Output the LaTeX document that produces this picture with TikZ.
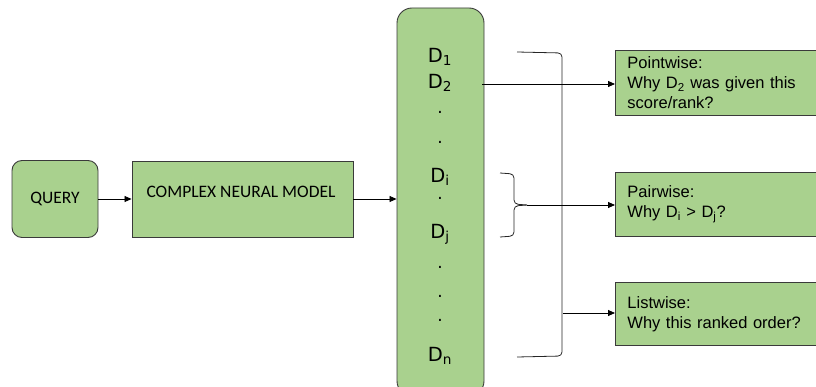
\documentclass[tikz,border=0pt]{standalone}
\usepackage{fontspec}
\setmainfont{Liberation Sans}
\newfontfamily\calfont{Carlito}
\newfontfamily\dvfont{DejaVu Sans}
\usetikzlibrary{arrows.meta}
\definecolor{boxgreen}{HTML}{A9D18E}
\definecolor{boxline}{HTML}{3A3A3A}
\begin{document}
\begin{tikzpicture}[x=1pt,y=-1pt,
  gbox/.style={draw=boxline, fill=boxgreen, line width=0.9pt},
  rbox/.style={gbox, anchor=north west, minimum width=200pt, inner xsep=12pt, inner ysep=0pt, text width=180pt, align=left, font=\fontsize{16.5}{20}\selectfont},
  dlab/.style={font=\dvfont\fontsize{19.5}{19.5}\selectfont, inner sep=0pt},
  dotlab/.style={font=\dvfont\fontsize{17}{17}\selectfont, inner sep=0pt},
  arr/.style={-{Triangle[length=7pt,width=6pt]}, line width=0.8pt, black},
  brk/.style={line width=0.8pt, draw=black!85, rounded corners=4pt}]
\useasboundingbox (0,0) rectangle (816,387);
\clip (0,0) rectangle (816,387);
% left boxes
\node[gbox, rounded corners=10pt, minimum width=86pt, minimum height=77pt, inner sep=0pt, font=\calfont\fontsize{17.5}{17.5}\selectfont] (query) at (55,199) {QUERY};
\node[gbox, minimum width=221pt, minimum height=76pt, inner sep=0pt] (cnm) at (242.5,199) {};
\node[font=\calfont\fontsize{17.5}{17.5}\selectfont, inner sep=0pt] (cnmtext) at (241,192) {COMPLEX NEURAL MODEL};
% document list box
\node[gbox, rounded corners=15pt, minimum width=87pt, minimum height=388pt, inner sep=0pt] (dbox) at (440.5,202) {};
\node[dlab] (d1) at (440,57) {D\textsubscript{1}};
\node[dlab] (d2) at (440,83) {D\textsubscript{2}};
\node[dotlab] (p1) at (440,112) {.};
\node[dotlab] (p2) at (440,142) {.};
\node[dlab] (di) at (440,177) {D\textsubscript{i}};
\node[dotlab] (p3) at (440,198) {.};
\node[dlab] (dj) at (440,234) {D\textsubscript{j}};
\node[dotlab] (p4) at (440,267) {.};
\node[dotlab] (p5) at (440,296) {.};
\node[dotlab] (p6) at (440,320) {.};
\node[dlab] (dn) at (440,356) {D\textsubscript{n}};
% right boxes
\node[rbox, minimum height=65pt] (point) at (615,50) {Pointwise:\\Why D\textsubscript{2} was given this\\score/rank?};
\node[rbox, minimum height=64pt] (pair) at (615,172) {Pairwise:\\Why D\textsubscript{i} > D\textsubscript{j}?\\[3pt]};
\node[rbox, minimum height=63pt] (list) at (615,282) {Listwise:\\Why this ranked order?\\[3pt]};
% arrows left
\draw[arr] (query.east) -- (cnm.west);
\draw[arr] (cnm.east) -- (cnm.east -| dbox.west);
% big bracket
\coordinate (bt) at (517,52);
\coordinate (bb) at (517,357);
\coordinate (bm) at (563,313);
\draw[brk] (bt) -- (562,53) -- (562,356) -- (bb);
% small bracket
\coordinate (st) at (500,173);
\coordinate (sb) at (500,237);
\coordinate (stip) at (527,205);
\draw[brk] (st) -- (514,174) -- (514,204) -- (stip);
\draw[brk] (stip) -- (514,206) -- (514,236) -- (sb);
% arrows right
\coordinate (d2r) at (482,84);
\draw[arr] (d2r) -- (point.west |- d2r);
\draw[arr] (stip) -- (pair.west |- stip);
\draw[arr] (bm) -- (list.west |- bm);
\end{tikzpicture}
\end{document}
